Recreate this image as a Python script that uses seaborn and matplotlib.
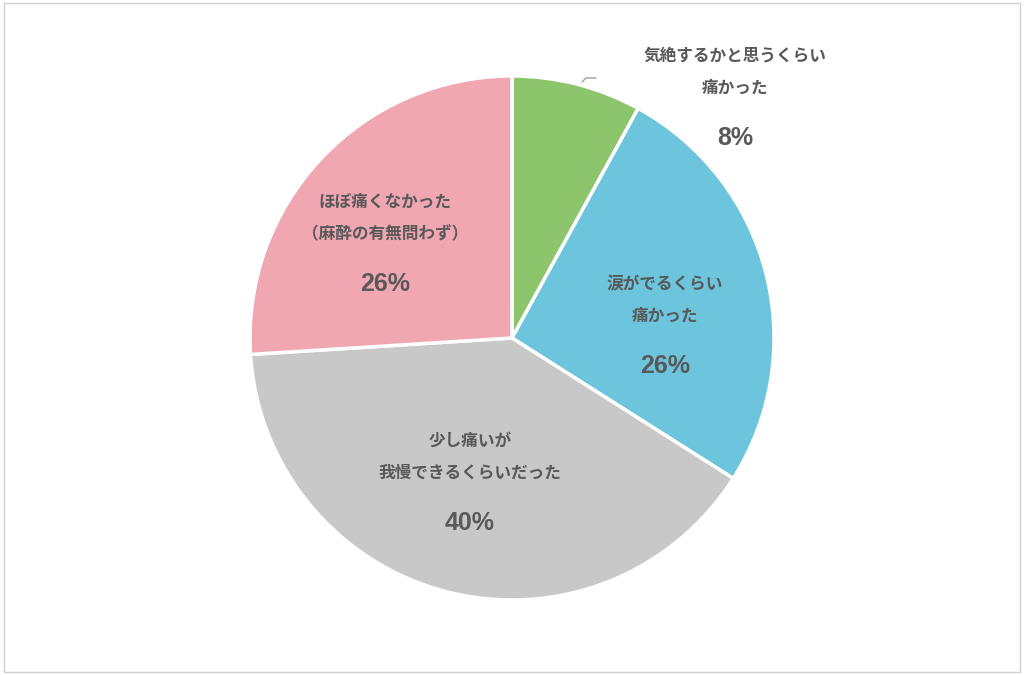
import matplotlib
matplotlib.use("Agg")
import matplotlib.pyplot as plt
from matplotlib.patches import Rectangle
import seaborn as sns

# data
labels = ["気絶するかと思うくらい\n痛かった", "涙がでるくらい\n痛かった",
          "少し痛いが\n我慢できるくらいだった", "ほぼ痛くなかった\n（麻酔の有無問わず）"]
values = [8, 26, 40, 26]
colors = ["#8dc56c", "#6cc5dc", "#c8c8c8", "#f1a7b2"]

sns.set_theme(style="white", font="Noto Sans CJK JP")
text_color = "#595959"

fig = plt.figure(figsize=(10.24, 6.75), dpi=100)
fig.patches.append(Rectangle((0.004, 0.004), 0.992, 0.992, transform=fig.transFigure,
                             fill=False, edgecolor="#d0d0d0", linewidth=1))

cx, cy, r = 512, 338, 262
ax = fig.add_axes([(cx - r) / 1024, (675 - cy - r) / 675, 2 * r / 1024, 2 * r / 675])
ax.pie(values, colors=colors, startangle=90, counterclock=False, radius=1,
       wedgeprops=dict(edgecolor="white", linewidth=2.5))
ax.set_xlim(-1, 1)
ax.set_ylim(-1, 1)
ax.set_aspect("equal")
ax.axis("off")

def px(x, y):
    return ((x - cx) / r, (cy - y) / r)

# label anchor positions (pixels): top of text block
anchors = [(735, 52), (665, 280), (470, 437), (385, 198)]
for lab, val, (x, y) in zip(labels, values, anchors):
    ax.text(*px(x, y + 20), lab, ha="center", va="center", fontsize=12,
            color=text_color, linespacing=2.0, fontweight="bold", clip_on=False)
    n = lab.count("\n") + 1
    ax.text(*px(x, y + 40 * n + 6), f"{val}%", ha="center", va="center",
            fontsize=18, fontweight="bold", color=text_color, clip_on=False,
            family="Liberation Sans")

# leader line for the small slice
ax.plot(*zip(px(582, 82), px(586, 78), px(596, 78)), color="#a0a0a0",
        linewidth=1, clip_on=False)

fig.savefig("out.png", dpi=100)
